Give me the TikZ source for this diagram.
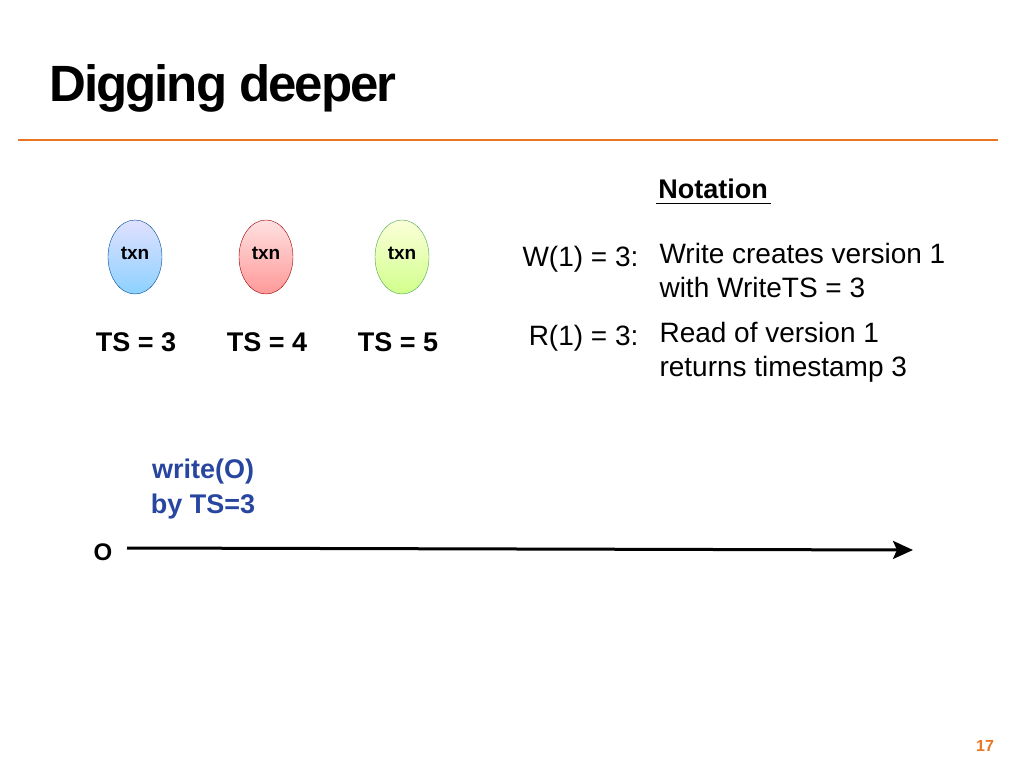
\documentclass[tikz,border=0pt]{standalone}
\usepackage{fontspec}
\setmainfont{Liberation Sans}
\usetikzlibrary{shapes.geometric,arrows.meta}
\definecolor{orng}{RGB}{232,118,34}
\definecolor{blu}{RGB}{40,70,160}
\tikzset{
 txn/.style={ellipse,draw,minimum width=54pt,minimum height=74pt,inner sep=0pt,font=\bfseries\fontsize{19}{22}\selectfont,text depth=0pt},
 ts/.style={font=\bfseries\fontsize{27}{32}\selectfont},
 body/.style={font=\fontsize{28}{34}\selectfont,align=left}
}
\begin{document}
\begin{tikzpicture}[x=1pt,y=-1pt]
\useasboundingbox (0,0) rectangle (1024,768);
\node[anchor=west,font=\bfseries\fontsize{51}{56}\selectfont] (title) at (46,88) {\addfontfeature{LetterSpace=-4}Digging deeper};
\draw[orng,line width=2.5pt] (18,140) -- (998,140);
\node[font=\bfseries\fontsize{27}{32}\selectfont] (not) at (713,189) {Notation};
\draw (656,203) -- (771,203);
\node[txn,draw=blue!50!cyan!60!black,top color=blue!12,bottom color=blue!40!cyan!45] (t1) at (135,257) {\raisebox{8pt}{txn}};
\node[txn,draw=red!60!black,top color=red!12,bottom color=red!40] (t2) at (266,257) {\raisebox{8pt}{txn}};
\node[txn,draw=green!50!black!70,top color=green!10!yellow!15,bottom color=green!40!yellow!45] (t3) at (402,257) {\raisebox{8pt}{txn}};
\node[ts] (s1) at (136,342) {TS = 3};
\node[ts] (s2) at (267,342) {TS = 4};
\node[ts] (s3) at (398,342) {TS = 5};
\node[body,anchor=east] (w) at (642,259) {W(1) = 3:};
\node[body,anchor=north west] (wd) at (656,240) {Write creates version 1\\with WriteTS = 3};
\node[body,anchor=east] (r) at (642,338) {R(1) = 3:};
\node[body,anchor=north west] (rd) at (656,319) {Read of version 1\\returns timestamp 3};
\node[font=\bfseries\fontsize{27}{35}\selectfont,text=blu,align=center] (wo) at (203,489) {write(O)\\by TS=3};
\node[font=\bfseries\fontsize{24}{28}\selectfont] (o) at (103,552) {O};
\coordinate (e) at (913,550);
\draw[line width=3pt,-{Stealth[length=20pt,width=18pt,inset=4pt]}] (127,548) -- (e);
\node[font=\bfseries\fontsize{16}{18}\selectfont,text=orng] (pg) at (985,746) {17};
\end{tikzpicture}
\end{document}
